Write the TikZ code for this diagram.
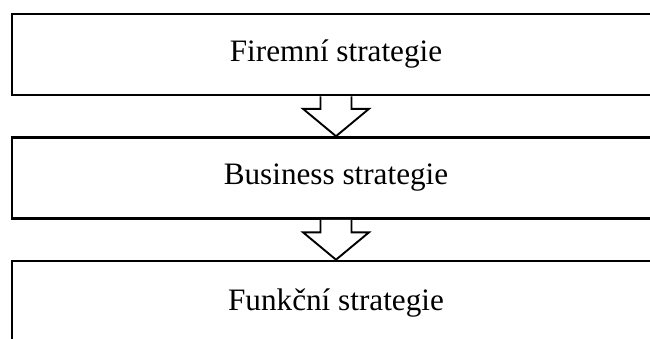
\documentclass[tikz,border=0pt]{standalone}
\usepackage{fontspec}
\setmainfont{Liberation Serif}
\usetikzlibrary{calc}
\begin{document}
\begin{tikzpicture}[x=1pt,y=-1pt,
  stratbox/.style={draw=black, line width=2.6pt, rectangle, minimum width=648pt, minimum height=81pt, inner sep=0pt, font=\fontsize{31.2}{36}\selectfont},
  downarrow/.style={draw=black, fill=white, line width=1.9pt, line join=miter}]
\useasboundingbox (0,0) rectangle (650,338);
\clip (0,0) rectangle (650,338);
\node[stratbox] (b1) at (336,54.5) {Firemní strategie};
\node[stratbox] (b2) at (336,178) {Business strategie};
\node[stratbox, minimum height=84pt] (b3) at (336,303) {Funkční strategie};
% arrow between box 1 and box 2
\filldraw[downarrow] ($(b1.south)+(-15.5,0)$) -- ($(b1.south)+(-15.5,12.5)$) -- ($(b1.south)+(-33,12.5)$)
  -- (b2.north) -- ($(b1.south)+(33,12.5)$) -- ($(b1.south)+(15.5,12.5)$) -- ($(b1.south)+(15.5,0)$);
% arrow between box 2 and box 3
\filldraw[downarrow] ($(b2.south)+(-15.5,0)$) -- ($(b2.south)+(-15.5,12.5)$) -- ($(b2.south)+(-33,12.5)$)
  -- (b3.north) -- ($(b2.south)+(33,12.5)$) -- ($(b2.south)+(15.5,12.5)$) -- ($(b2.south)+(15.5,0)$);
\end{tikzpicture}
\end{document}
